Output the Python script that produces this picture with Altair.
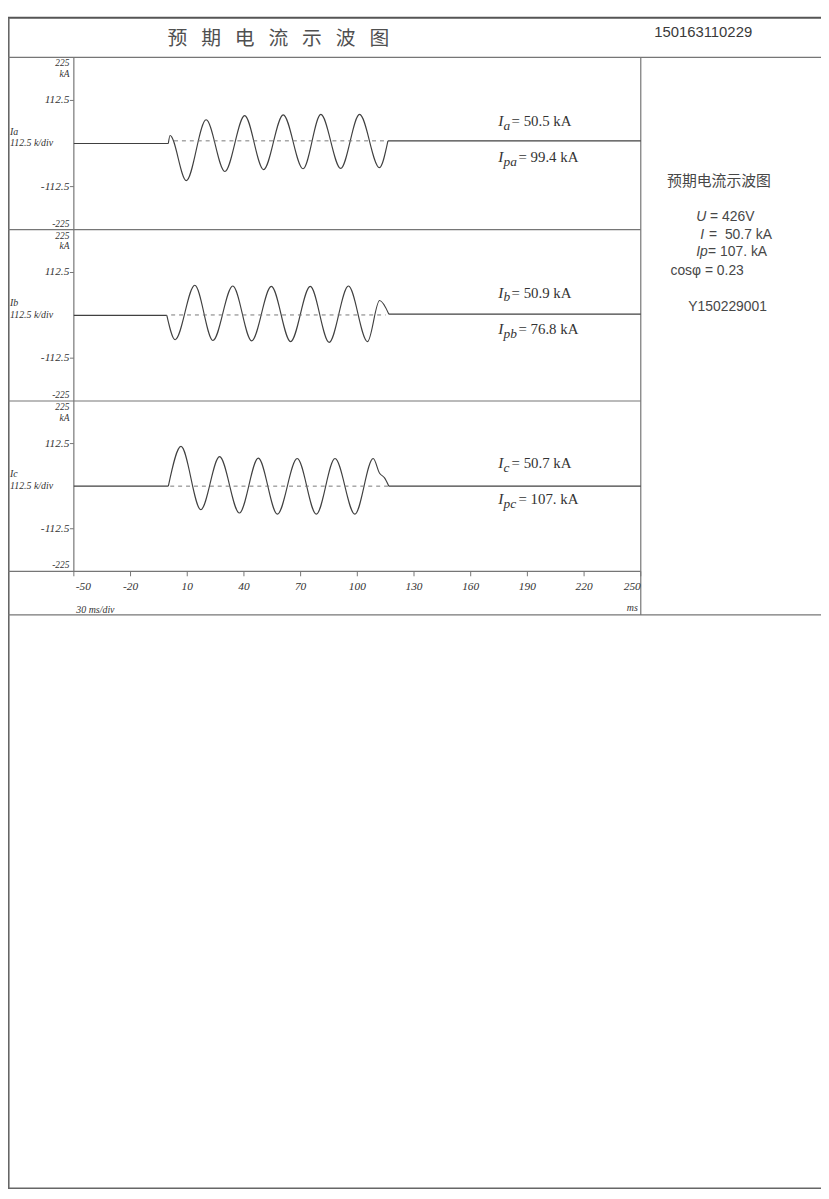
import altair as alt
import pandas as pd

# ---------------- data ----------------
X_TICKS = [-50, -20, 10, 40, 70, 100, 130, 160, 190, 220, 250]
Y_TICK_VALUES = [112.5, -112.5]
Y_TICK_LABELS = ["112.5", "-112.5"]
Y_LIMIT = 225

PHASE_LABELS = ["Ia", "Ib", "Ic"]
PHASE_SUB = ["a", "b", "c"]
RMS_KA = ["50.5", "50.9", "50.7"]
PEAK_KA = ["99.4", "76.8", "107."]

# fault portion of each trace: times (ms) and current (kA) at the turning points
FAULT_T_A = [0.0, 0.9, 9.5, 20.0, 29.9, 40.4, 50.4, 60.8, 71.3, 80.7, 91.2, 101.2, 111.7, 116.2]
FAULT_I_A = [0, 21, -97, 62, -73, 73, -68, 75, -66, 76, -65, 76, -63, 7]

FAULT_T_B = [-0.8, 3.6, 14.0, 23.6, 34.1, 44.1, 54.5, 64.7, 75.1, 85.1, 95.3, 105.4, 111.8, 116.7]
FAULT_I_B = [0, -64, 79, -66, 77, -67, 76, -69, 76, -71, 77, -69, 39, 3]

FAULT_T_C = [0.0, 6.7, 17.2, 27.1, 37.6, 47.6, 57.7, 68.2, 78.3, 88.2, 98.7, 108.4, 111.8, 114.4, 116.7]
FAULT_I_C = [0, 105, -62, 78, -71, 74, -74, 73, -74, 73, -74, 73, 34, 22, 0]

PRE_LEVEL = [0, 0, 0]
POST_LEVEL = [7, 3, 0]
DASH_T = [[3.0, 116.0], [1.5, 115.0], [1.0, 116.5]]
DASH_LEVEL = [7, 1, 0]

DOC_TITLE = "预\u2002\u2009期\u2002\u2009电\u2002\u2009流\u2002\u2009示\u2002\u2009波\u2002\u2009图"
DOC_NO = "150163110229"
INFO_TITLE = "预期电流示波图"
INFO_U = "426V"
INFO_I = "50.7 kA"
INFO_IP = "107. kA"
INFO_COS = "0.23"
SERIAL = "Y150229001"

# ---------------- layout / styles ----------------
W, H = 821, 1191
XS = alt.Scale(domain=[-50, 250], range=[66.5, 639])
PANELS = [(44, 218), (218, 391), (391, 563)]
SERIF = "Liberation Serif"
SANS = "Liberation Sans"
CJK = "Noto Sans CJK SC"
FRAME = "#767676"
WAVE = "#404040"
TXT = "#333333"
INFO = "#474747"

ONE = alt.Data(values=[{"k": 0}])


def hline(y, x1, x2, w=1.2, color=FRAME):
    return alt.Chart(ONE).mark_rule(color=color, strokeWidth=w).encode(
        x=alt.value(x1), x2=alt.value(x2), y=alt.value(y))


def vline(x, y1, y2, w=1.2, color=FRAME):
    return alt.Chart(ONE).mark_rule(color=color, strokeWidth=w).encode(
        x=alt.value(x), y=alt.value(y1), y2=alt.value(y2))


def txt(s, x, y, **kw):
    props = dict(align="left", baseline="middle", color=TXT)
    props.update(kw)
    return alt.Chart(ONE).mark_text(text=s, **props).encode(x=alt.value(x), y=alt.value(y))


layers = []

# frame
layers += [
    hline(4, 0, W, w=1.8, color="#555555"),
    vline(0.8, 4, 1186, w=1.6, color="#666666"),
    hline(1186, 0, W, w=1.6, color="#666666"),
    hline(44, 0, W),
    hline(607, 0, W),
    vline(639, 44, 607),
    vline(66.5, 44, 563),
    hline(218, 0, 639),
    hline(391, 0, 639),
    hline(563, 0, 639),
]

# header
layers += [
    txt(DOC_TITLE, 273, 25, align="center", font=CJK, fontSize=20, color="#505050"),
    txt(DOC_NO, 702, 18, align="center", font=SANS, fontSize=15, color="#3a3a3a"),
]

faults = [(FAULT_T_A, FAULT_I_A), (FAULT_T_B, FAULT_I_B), (FAULT_T_C, FAULT_I_C)]

for p, (top, bot) in enumerate(PANELS):
    ys = alt.Scale(domain=[-Y_LIMIT, Y_LIMIT], range=[bot, top])
    ft, fi = faults[p]
    rows = [{"t": -50, "i": PRE_LEVEL[p], "seg": "pre"}, {"t": ft[0], "i": PRE_LEVEL[p], "seg": "pre"}]
    rows += [{"t": t, "i": v, "seg": "fault"} for t, v in zip(ft, fi)]
    rows += [{"t": ft[-1], "i": POST_LEVEL[p], "seg": "post"}, {"t": 250, "i": POST_LEVEL[p], "seg": "post"}]
    wave = pd.DataFrame(rows)
    layers.append(
        alt.Chart(wave).mark_line(interpolate="monotone", color=WAVE, strokeWidth=1.15).encode(
            x=alt.X("t:Q", scale=XS, axis=None),
            y=alt.Y("i:Q", scale=ys, axis=None),
            detail="seg:N",
        )
    )
    dash = pd.DataFrame({"t": DASH_T[p], "i": [DASH_LEVEL[p]] * 2})
    layers.append(
        alt.Chart(dash).mark_line(color="#777777", strokeWidth=1, strokeDash=[4, 4]).encode(
            x=alt.X("t:Q", scale=XS, axis=None),
            y=alt.Y("i:Q", scale=ys, axis=None),
        )
    )
    # y ticks and labels
    tdf = pd.DataFrame({"v": Y_TICK_VALUES, "lab": Y_TICK_LABELS})
    layers.append(
        alt.Chart(tdf).mark_rule(color=FRAME, strokeWidth=1).encode(
            y=alt.Y("v:Q", scale=ys, axis=None), x=alt.value(62.5), x2=alt.value(66.5))
    )
    layers.append(
        alt.Chart(tdf).mark_text(align="right", baseline="middle", font=SERIF, fontStyle="italic",
                                 fontSize=11.5, color=TXT).encode(
            x=alt.value(62), y=alt.Y("v:Q", scale=ys, axis=None), text="lab:N")
    )
    lim = pd.DataFrame({"v": [Y_LIMIT], "lab": [str(Y_LIMIT)]})
    layers.append(
        alt.Chart(lim).mark_text(align="right", baseline="middle", font=SERIF, fontStyle="italic",
                                 fontSize=9.5, color=TXT, dy=6).encode(
            x=alt.value(62), y=alt.Y("v:Q", scale=ys, axis=None), text="lab:N")
    )
    layers.append(
        alt.Chart(lim).mark_text(align="right", baseline="middle", font=SERIF, fontStyle="italic",
                                 fontSize=9.5, color=TXT, dy=17, text="kA").encode(
            x=alt.value(62), y=alt.Y("v:Q", scale=ys, axis=None))
    )
    nlim = pd.DataFrame({"v": [-Y_LIMIT], "lab": [str(-Y_LIMIT)]})
    layers.append(
        alt.Chart(nlim).mark_text(align="right", baseline="middle", font=SERIF, fontStyle="italic",
                                  fontSize=9.5, color=TXT, dy=-6).encode(
            x=alt.value(62), y=alt.Y("v:Q", scale=ys, axis=None), text="lab:N")
    )
    zero = pd.DataFrame({"v": [0], "name": [PHASE_LABELS[p]], "div": ["112.5 k/div"]})
    layers.append(
        alt.Chart(zero).mark_text(align="left", baseline="middle", font=SERIF, fontStyle="italic",
                                  fontSize=10, color=TXT, dy=-12).encode(
            x=alt.value(2), y=alt.Y("v:Q", scale=ys, axis=None), text="name:N")
    )
    layers.append(
        alt.Chart(zero).mark_text(align="left", baseline="middle", font=SERIF, fontStyle="italic",
                                  fontSize=10, color=TXT, dy=0).encode(
            x=alt.value(2), y=alt.Y("v:Q", scale=ys, axis=None), text="div:N")
    )
    # annotations  I_x = rms, I_px = peak
    zc = (top + bot) / 2
    ax = 495
    for yc, sub, val in [(zc - 23, PHASE_SUB[p], RMS_KA[p]), (zc + 13.5, "p" + PHASE_SUB[p], PEAK_KA[p])]:
        base = yc + 5
        layers.append(txt("I", ax, base, baseline="alphabetic", font=SERIF, fontStyle="italic", fontSize=15.5))
        layers.append(txt(sub, ax + 5.5, base + 4, baseline="alphabetic", font=SERIF, fontStyle="italic", fontSize=13.5))
        layers.append(txt("= " + val + " kA", ax + (13.5 if len(sub) == 1 else 20.5), base,
                          baseline="alphabetic", font=SERIF, fontSize=15))

# x axis
xdf = pd.DataFrame({"v": X_TICKS, "lab": [str(v) for v in X_TICKS]})
layers.append(
    alt.Chart(xdf).mark_rule(color=FRAME, strokeWidth=1).encode(
        x=alt.X("v:Q", scale=XS, axis=None), y=alt.value(563), y2=alt.value(568))
)
for filt, align, dx in [("datum.v == -50", "left", 2), ("datum.v > -50 && datum.v < 250", "center", 0),
                        ("datum.v == 250", "right", 0)]:
    layers.append(
        alt.Chart(xdf).transform_filter(filt).mark_text(
            align=align, baseline="middle", font=SERIF, fontStyle="italic", fontSize=11.5,
            color=TXT, dx=dx).encode(
            x=alt.X("v:Q", scale=XS, axis=None), y=alt.value(579), text="lab:N")
    )
layers += [
    txt("30 ms/div", 69, 602, font=SERIF, fontStyle="italic", fontSize=10),
    txt("ms", 636, 600, align="right", font=SERIF, fontStyle="italic", fontSize=10),
]

# info column
layers += [
    txt(INFO_TITLE, 718, 169, align="center", font=CJK, fontSize=15, color=INFO),
    txt("U", 695, 205, font=SANS, fontStyle="italic", fontSize=14, color=INFO),
    txt("= " + INFO_U, 709, 205, font=SANS, fontSize=14, color=INFO),
    txt("I", 699, 223, font=SANS, fontStyle="italic", fontSize=14, color=INFO),
    txt("=\u00a0\u00a0" + INFO_I, 708, 223, font=SANS, fontSize=14, color=INFO),
    txt("Ip", 695, 241, font=SANS, fontStyle="italic", fontSize=14, color=INFO),
    txt("= " + INFO_IP, 707, 241, font=SANS, fontSize=14, color=INFO),
    txt("cosφ = " + INFO_COS, 669, 260, font=SANS, fontSize=14, color=INFO),
    txt(SERIAL, 687, 296, font=SANS, fontSize=14, color=INFO),
]

chart = alt.layer(*layers).resolve_scale(y="independent").properties(
    width=W, height=H, padding=0, background="white",
    autosize=alt.AutoSizeParams(type="none"),
).configure_view(strokeWidth=0)

chart.save("out.html", embed_options={"renderer": "svg", "actions": False})
